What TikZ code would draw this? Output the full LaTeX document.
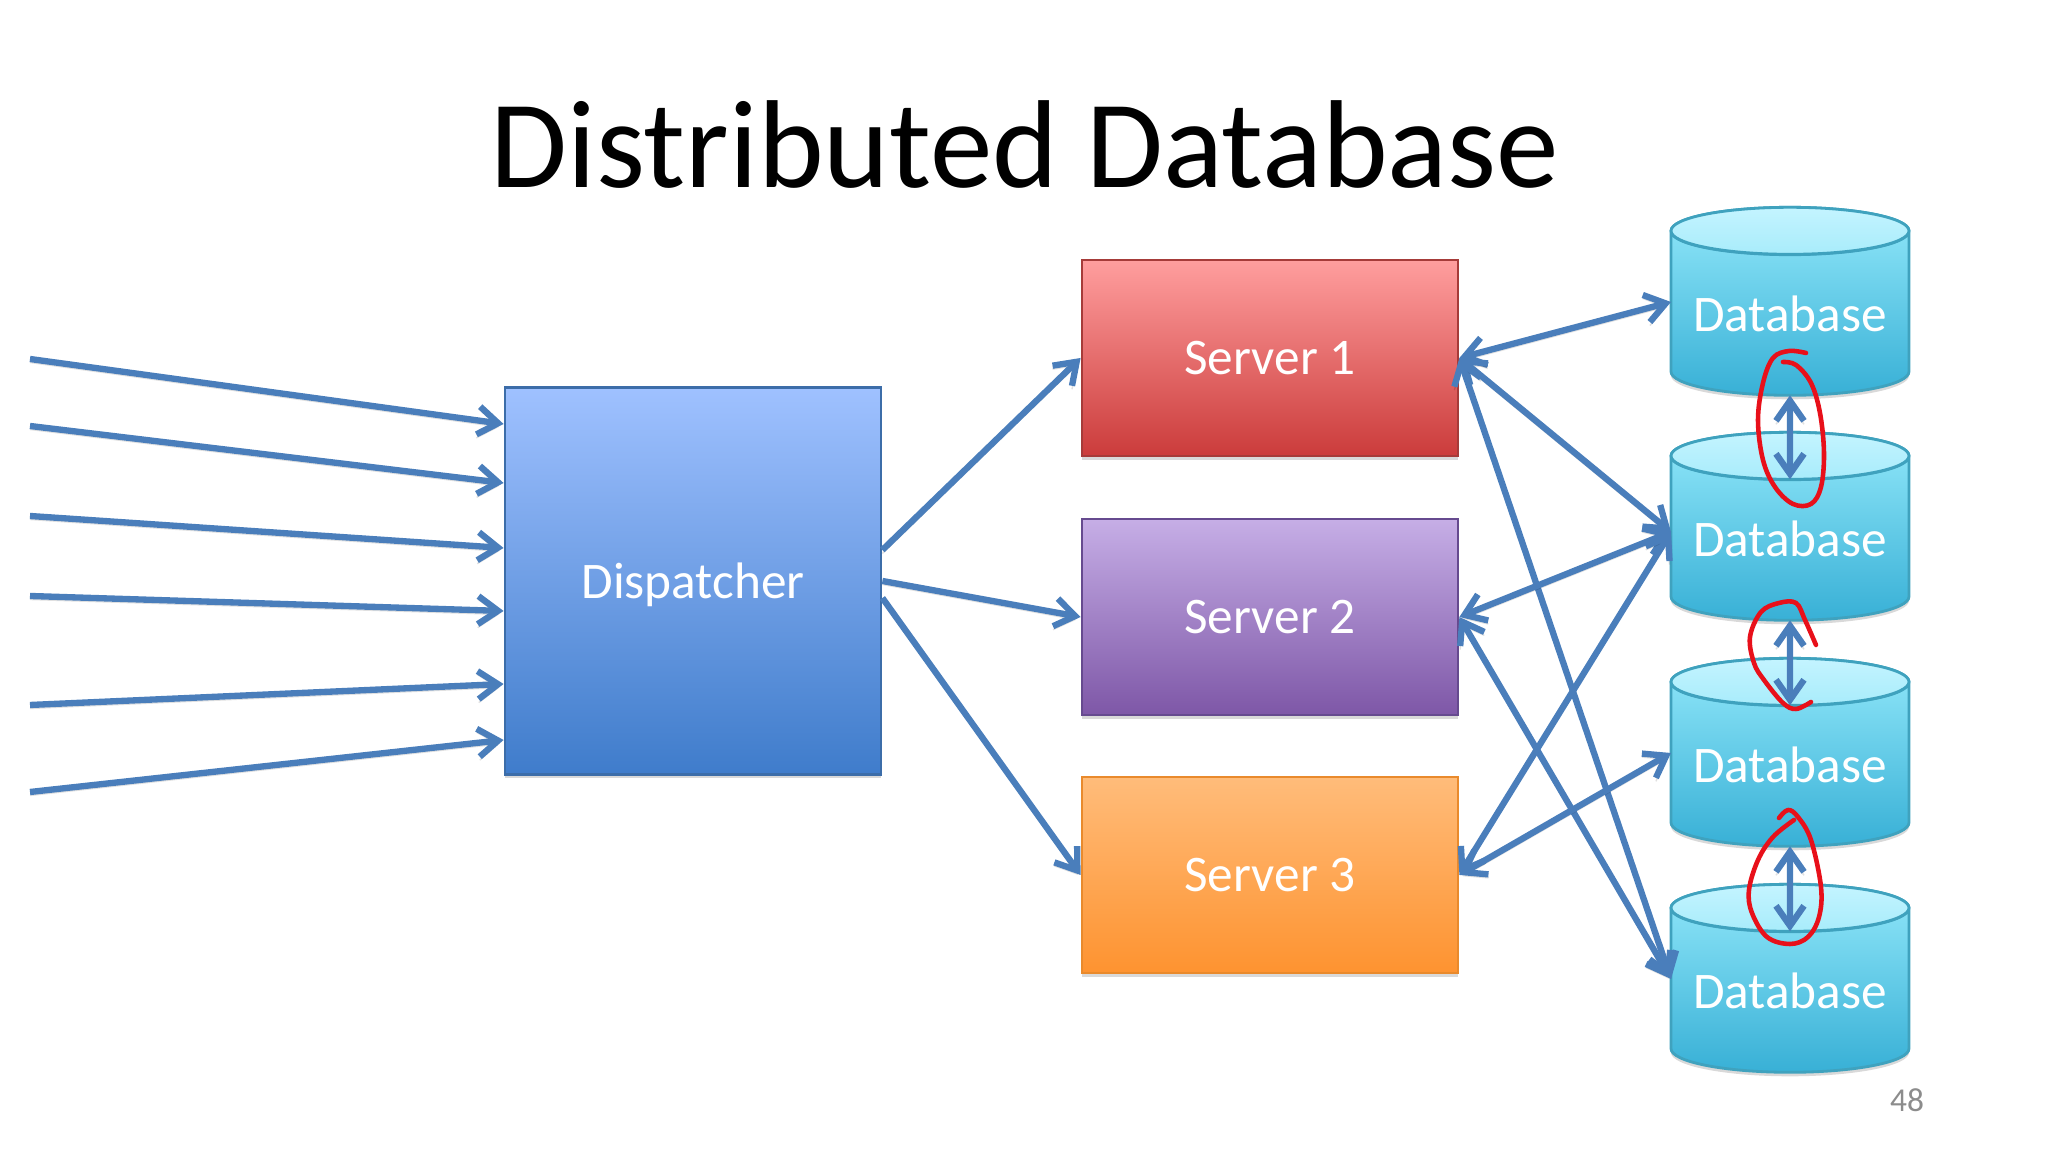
\documentclass[tikz,border=0pt]{standalone}
\usepackage{fontspec}
\setmainfont{Carlito}
\usetikzlibrary{arrows.meta,shapes.geometric,shadows}

\definecolor{linkblue}{HTML}{4A7EBB}
\definecolor{penred}{HTML}{E8101A}
\definecolor{dbline}{HTML}{3FA2BE}
\definecolor{dbtop}{HTML}{92E8FA}
\definecolor{dbbot}{HTML}{38B0D6}
\definecolor{captop}{HTML}{C4F4FF}
\definecolor{capbot}{HTML}{A8ECFB}

\tikzset{
	barb/.tip={Straight Barb[length=.2cm, width=.28cm, line width=1.8pt]}
}

\begin{document}
\begin{tikzpicture}[
	box/.style={draw, line width=.8pt, minimum width=3.76cm, text=white, text depth=0pt, font=\fontsize{14.6}{18}\selectfont,
		drop shadow={shadow xshift=0cm, shadow yshift=-.04cm, opacity=.3}},
	server/.style={box, minimum height=1.96cm},
	db/.style={cylinder, shape border rotate=90, aspect=.218, draw=dbline, line width=.8pt,
		minimum width=2.38cm, minimum height=1.88cm, top color=dbtop, bottom color=dbbot, text=white,
		text depth=.1cm, font=\fontsize{14.6}{18}\selectfont, outer sep=0pt,
		drop shadow={shadow xshift=0cm, shadow yshift=-.04cm, opacity=.3}},
	dbcap/.style={draw=dbline, line width=.8pt, top color=captop, bottom color=capbot},
	link/.style={draw=linkblue, line width=1.8pt, -barb,
		preaction={draw=black, opacity=.12, transform canvas={yshift=-.035cm}}},
	twoway/.style={link, barb-barb},
	pen/.style={draw=penred, line width=1.3pt, line cap=round, line join=round}
	]

	\useasboundingbox (0,0) rectangle (20.48,11.52);

	% Nodes
	\node[font=\fontsize{35.6}{42}\selectfont] (title) at (10.25,10.07) {Distributed Database};
	\node[text=black!45, font=\fontsize{9.5}{11}\selectfont] (page) at (19.07,.52) {48};

	\definecolor{displine}{HTML}{3C6DA9}
	\definecolor{disptop}{HTML}{9FC1FF}
	\definecolor{dispbot}{HTML}{3F7CCB}
	\node[box, minimum height=3.87cm, draw=displine, top color=disptop, bottom color=dispbot] (disp) at (6.93,5.71) {Dispatcher};

	\definecolor{oneline}{HTML}{A63B39}
	\definecolor{onetop}{HTML}{FF9E9E}
	\definecolor{onebot}{HTML}{CB3C3B}
	\definecolor{twoline}{HTML}{664A8F}
	\definecolor{twotop}{HTML}{C6AEE6}
	\definecolor{twobot}{HTML}{7E57A7}
	\definecolor{threeline}{HTML}{E98A2C}
	\definecolor{threetop}{HTML}{FFBC7A}
	\definecolor{threebot}{HTML}{FE9330}
	\node[server, node distance=5.77cm, right of=disp, yshift=2.23cm, draw=oneline, top color=onetop, bottom color=onebot] (s1) {Server 1};
	\node[server, node distance=2.59cm, below of=s1, draw=twoline, top color=twotop, bottom color=twobot] (s2) {Server 2};
	\node[server, node distance=2.58cm, below of=s2, draw=threeline, top color=threetop, bottom color=threebot] (s3) {Server 3};

	\node[db] (db1) at (17.90,8.33) {Database};
	\node[db, node distance=2.25cm, below of=db1] (db2) {Database};
	\node[db, node distance=2.26cm, below of=db2] (db3) {Database};
	\node[db, node distance=2.26cm, below of=db3] (db4) {Database};

	\foreach \n in {db1,db2,db3,db4}
		\path[dbcap] ([yshift=-.235cm]\n.north) ellipse (1.19cm and .235cm);

	\coordinate (in1) at (.30,7.93);
	\coordinate (in2) at (.30,7.26);
	\coordinate (in3) at (.30,6.36);
	\coordinate (in4) at (.30,5.56);
	\coordinate (in5) at (.30,4.47);
	\coordinate (in6) at (.30,3.60);

	% Lines
	\draw[link] (in1) -- ([yshift=1.57cm]disp.west);
	\draw[link] (in2) -- ([yshift=.98cm]disp.west);
	\draw[link] (in3) -- ([yshift=.33cm]disp.west);
	\draw[link] (in4) -- ([yshift=-.30cm]disp.west);
	\draw[link] (in5) -- ([yshift=-1.03cm]disp.west);
	\draw[link] (in6) -- ([yshift=-1.59cm]disp.west);

	\draw[link] ([yshift=.31cm]disp.east) -- (s1.west);
	\draw[link] (disp.east) -- (s2.west);
	\draw[link] ([yshift=-.17cm]disp.east) -- (s3.west);

	\draw[twoway] (s1.east) -- ([yshift=.17cm]db1.west);
	\draw[twoway] (s1.east) -- ([yshift=.12cm]db2.west);
	\draw[twoway] (s1.east) -- ([yshift=.17cm]db4.west);
	\draw[twoway] (s2.east) -- ([yshift=.12cm]db2.west);
	\draw[twoway] (s2.east) -- ([yshift=.17cm]db4.west);
	\draw[twoway] (s3.east) -- ([yshift=.12cm]db2.west);
	\draw[twoway] (s3.east) -- ([yshift=.17cm]db3.west);

	\draw[twoway] (db1.south) -- ([yshift=-.47cm]db2.north);
	\draw[twoway] (db2.south) -- ([yshift=-.47cm]db3.north);
	\draw[twoway] (db3.south) -- ([yshift=-.47cm]db4.north);

	% Pen marks
	\draw[pen] plot[smooth, tension=.6] coordinates {(18.06,7.99) (17.89,8.01) (17.73,7.94) (17.63,7.69) (17.58,7.32) (17.63,6.92) (17.75,6.65) (17.93,6.48) (18.11,6.48) (18.21,6.65) (18.24,6.99) (18.20,7.39) (18.11,7.69) (17.96,7.87) (17.83,7.90)};
	\draw[pen] plot[smooth, tension=.6] coordinates {(18.16,5.07) (18.05,5.32) (17.96,5.49) (17.79,5.49) (17.61,5.40) (17.50,5.15) (17.54,4.89) (17.64,4.72) (17.83,4.49) (17.96,4.43) (18.11,4.50)};
	\draw[pen] plot[smooth, tension=.6] coordinates {(17.79,3.34) (17.88,3.42) (17.98,3.35) (18.11,3.12) (18.21,2.65) (18.19,2.35) (18.08,2.15) (17.90,2.08) (17.67,2.15) (17.52,2.39) (17.49,2.62) (17.58,2.92) (17.73,3.15) (17.94,3.32)};

\end{tikzpicture}
\end{document}
